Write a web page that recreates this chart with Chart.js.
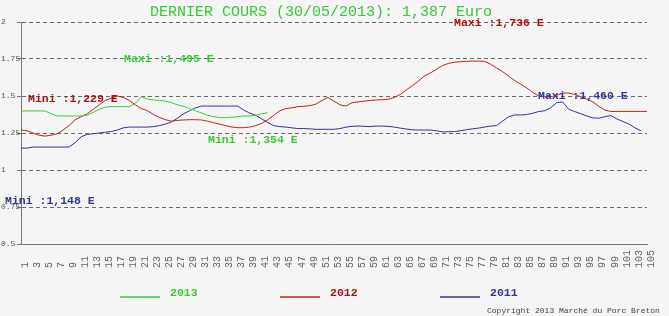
<!DOCTYPE html>
<html>
<head>
<meta charset="utf-8">
<script src="https://cdn.jsdelivr.net/npm/chart.js@4.4.1/dist/chart.umd.min.js"></script>
<style>
html,body{margin:0;padding:0;background:#f5f5f5;}
#wrap{width:669px;height:316px;position:relative;}
canvas{display:block;}
</style>
</head>
<body>
<div id="wrap"><canvas id="c" width="669" height="316"></canvas></div>
<script>
// ---- data ----
const weeks = ['1','2','3','4','5','6','7','8','9','10','11','12','13','14','15','16','17','18','19','20',
'21','22','23','24','25','26','27','28','29','30','31','32','33','34','35','36','37','38','39','40',
'41','42','43','44','45','46','47','48','49','50','51','52','53','54','55','56','57','58','59','60',
'61','62','63','64','65','66','67','68','69','70','71','72','73','74','75','76','77','78','79','80',
'81','82','83','84','85','86','87','88','89','90','91','92','93','94','95','96','97','98','99','100',
'101','102','103','104','105'];

const series2013 = [1.399,1.399,1.399,1.399,1.399,1.38,1.365,1.365,1.365,1.365,
1.365,1.37,1.39,1.41,1.425,1.428,1.428,1.428,1.428,1.45,
1.495,1.48,1.473,1.47,1.465,1.455,1.44,1.43,1.415,1.40,
1.385,1.37,1.36,1.354,1.354,1.356,1.36,1.365,1.365,1.37,
1.38,1.387];

const series2012 = [1.27,1.265,1.25,1.235,1.229,1.235,1.245,1.27,1.30,1.34,
1.36,1.38,1.41,1.44,1.47,1.485,1.50,1.49,1.47,1.44,
1.415,1.40,1.375,1.355,1.34,1.33,1.335,1.338,1.34,1.34,
1.338,1.33,1.32,1.31,1.30,1.29,1.286,1.286,1.29,1.30,
1.315,1.34,1.37,1.40,1.415,1.42,1.428,1.43,1.435,1.445,
1.47,1.49,1.465,1.44,1.432,1.455,1.46,1.465,1.47,1.473,
1.475,1.478,1.49,1.51,1.54,1.57,1.60,1.635,1.655,1.68,
1.705,1.72,1.728,1.732,1.734,1.736,1.736,1.734,1.715,1.69,
1.665,1.635,1.605,1.58,1.555,1.525,1.50,1.495,1.495,1.505,
1.52,1.52,1.51,1.495,1.48,1.46,1.43,1.405,1.395,1.396,
1.396,1.396,1.396,1.396,1.396];

const series2011 = [1.148,1.148,1.155,1.155,1.155,1.155,1.155,1.155,1.155,1.185,
1.225,1.24,1.245,1.25,1.255,1.26,1.27,1.285,1.29,1.29,
1.29,1.29,1.293,1.30,1.31,1.325,1.35,1.38,1.40,1.42,
1.432,1.432,1.432,1.432,1.432,1.432,1.432,1.405,1.385,1.37,
1.345,1.32,1.30,1.293,1.29,1.285,1.28,1.28,1.278,1.275,
1.275,1.275,1.275,1.28,1.29,1.295,1.297,1.295,1.293,1.297,
1.297,1.295,1.29,1.283,1.277,1.272,1.27,1.27,1.27,1.265,
1.258,1.258,1.26,1.265,1.272,1.278,1.283,1.29,1.297,1.30,
1.33,1.36,1.372,1.372,1.375,1.383,1.395,1.40,1.42,1.455,
1.46,1.41,1.395,1.38,1.365,1.352,1.35,1.36,1.368,1.345,
1.328,1.31,1.285,1.265];

const seriesNames = ['2013','2012','2011'];
const yTicks = [0.5,0.75,1,1.25,1.5,1.75,2];
const titleText = 'DERNIER COURS (30/05/2013): 1,387 Euro';
const noteTexts = ['Maxi :1,495 E','Mini :1,354 E','Maxi :1,736 E','Mini :1,229 E','Maxi :1,460 E','Mini :1,148 E'];
const copyrightText = 'Copyright 2013 Marché du Porc Breton';

// ---- styles ----
const GREEN = '#3ccc3c', RED = '#c81e1e', BLUE = '#343494';
const GREEN_TXT = '#38c838', RED_TXT = '#a81414', BLUE_TXT = '#343494';
const MONO = '"Liberation Mono", "DejaVu Sans Mono", monospace';

const notePlaces = [
  {x:124, y:59.5, c:GREEN_TXT},
  {x:208, y:140.5, c:GREEN_TXT},
  {x:454, y:23, c:RED_TXT},
  {x:28, y:99, c:RED_TXT},
  {x:538, y:96, c:BLUE_TXT},
  {x:5, y:201.5, c:BLUE_TXT}
];
const legendPlaces = [{x:120,c:GREEN,t:GREEN_TXT},{x:280,c:RED,t:RED_TXT},{x:440,c:BLUE,t:BLUE_TXT}];

const decor = {
  id:'decor',
  beforeDraw(chart){
    const c = chart.ctx;
    c.save();
    c.fillStyle = '#f5f5f5';
    c.fillRect(0,0,chart.width,chart.height);
    c.restore();
  },
  afterDatasetsDraw(chart){
    const c = chart.ctx;
    c.save();
    c.textBaseline = 'middle';
    c.textAlign = 'left';
    c.font = '15px ' + MONO;
    c.fillStyle = GREEN_TXT;
    c.fillText(titleText, 150, 12.5);
    c.font = 'bold 11.5px ' + MONO;
    noteTexts.forEach((t,i)=>{
      c.fillStyle = notePlaces[i].c;
      c.fillText(t, notePlaces[i].x, notePlaces[i].y);
    });
    // legend
    seriesNames.forEach((n,i)=>{
      const p = legendPlaces[i];
      c.strokeStyle = p.c;
      c.lineWidth = 1.6;
      c.beginPath();
      c.moveTo(p.x, 297);
      c.lineTo(p.x+40, 297);
      c.stroke();
      c.fillStyle = p.t;
      c.font = 'bold 11.5px ' + MONO;
      c.fillText(n, p.x+50, 293.5);
    });
    c.font = '8px ' + MONO;
    c.fillStyle = '#444';
    c.fillText(copyrightText, 487, 311);
    c.restore();
  }
};

const padLabel = s => (s + '   ').slice(0,3);

new Chart(document.getElementById('c'), {
  type:'line',
  data:{
    labels: weeks,
    datasets:[
      {label:seriesNames[0], data:series2013, borderColor:GREEN, borderWidth:1, pointRadius:0, tension:0, fill:false},
      {label:seriesNames[1], data:series2012, borderColor:RED, borderWidth:1, pointRadius:0, tension:0, fill:false},
      {label:seriesNames[2], data:series2011, borderColor:BLUE, borderWidth:1, pointRadius:0, tension:0, fill:false}
    ]
  },
  options:{
    responsive:false,
    animation:false,
    devicePixelRatio:1,
    layout:{padding:{left:1,right:22,top:22,bottom:22}},
    plugins:{legend:{display:false}, title:{display:false}, tooltip:{enabled:false}},
    scales:{
      x:{
        type:'category',
        offset:false,
        grid:{display:false, drawTicks:false},
        border:{display:true, color:'#777', width:1},
        ticks:{
          autoSkip:false, maxRotation:90, minRotation:90, padding:6, labelOffset:4,
          color:'#666', font:{family:MONO, size:10},
          callback:(v,i)=> (i%2===0 ? padLabel(weeks[i]) : '')
        },
        afterFit:(s)=>{ s.height = 50; }
      },
      y:{
        min:0.5, max:2,
        afterBuildTicks:(s)=>{ s.ticks = yTicks.map(v=>({value:v})); },
        ticks:{
          crossAlign:'far', padding:2, color:'#555', font:{family:MONO, size:8},
          callback:(v)=> String(v)
        },
        grid:{color:'#6a6a6a', lineWidth:1, tickLength:4, tickColor:'#777'},
        border:{display:true, color:'#777', width:1, dash:[4,3]},
        afterFit:(s)=>{ s.width = 20; }
      }
    }
  },
  plugins:[decor]
});
</script>
</body>
</html>
